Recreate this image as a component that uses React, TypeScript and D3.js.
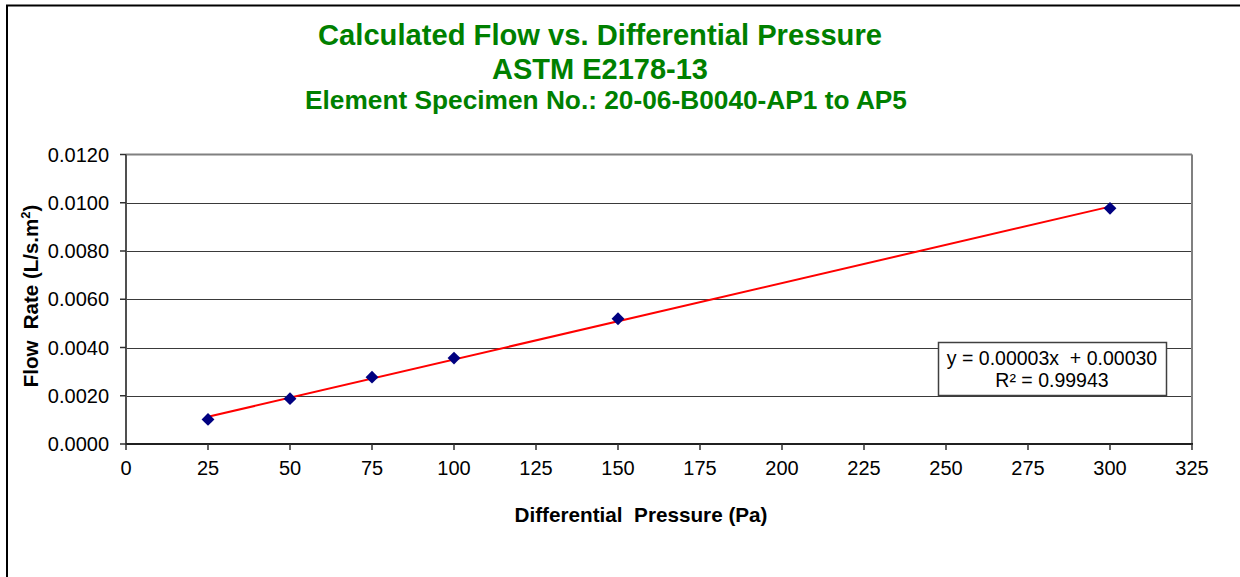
import React from "react";
import * as d3 from "d3";

const pressure = [25, 50, 75, 100, 150, 300];
const flowRate = [0.00102, 0.00188, 0.00277, 0.00356, 0.00519, 0.00977];
const xTicks = [0, 25, 50, 75, 100, 125, 150, 175, 200, 225, 250, 275, 300, 325];
const yTicks = [0, 0.002, 0.004, 0.006, 0.008, 0.01, 0.012];
const titleLines = [
  "Calculated Flow vs. Differential Pressure",
  "ASTM E2178-13",
  "Element Specimen No.: 20-06-B0040-AP1 to AP5",
];
const equationLines = ["y = 0.00003x\u00A0 + 0.00030", "R² = 0.99943"];

const W = 1240;
const H = 577;
const plot = { left: 126, right: 1192, top: 154.5, bottom: 444 };
const FONT = "'Liberation Sans', Arial, sans-serif";

export default function App() {
  const x = d3.scaleLinear().domain([0, 325]).range([plot.left, plot.right]);
  const y = d3.scaleLinear().domain([0, 0.012]).range([plot.bottom, plot.top]);

  // least squares trend line
  const mx = d3.mean(pressure)!;
  const my = d3.mean(flowRate)!;
  const sxy = d3.sum(pressure.map((p, i) => (p - mx) * (flowRate[i] - my)));
  const sxx = d3.sum(pressure.map((p) => (p - mx) * (p - mx)));
  const slope = sxy / sxx;
  const intercept = my - slope * mx;
  const x0 = d3.min(pressure)!;
  const x1 = d3.max(pressure)!;
  const trend = d3.line<number>()
    .x((d) => x(d))
    .y((d) => y(slope * d + intercept))([x0, x1]);

  const diamond = d3.symbol().type(d3.symbolDiamond2).size(105)();

  return (
    <svg
      width={W}
      height={H}
      style={{ position: "absolute", left: 0, top: 0, background: "#fff" }}
      fontFamily={FONT}
    >
      <rect x={0} y={0} width={W} height={H} fill="#fff" />
      {/* outer frame */}
      <line x1={6} y1={5.5} x2={W} y2={5.5} stroke="#000" strokeWidth={2} />
      <line x1={7} y1={5} x2={7} y2={H} stroke="#000" strokeWidth={2} />

      {/* titles */}
      <g fill="#008000" fontWeight="bold" textAnchor="middle">
        <text x={600} y={44.5} fontSize={29} textLength={564} lengthAdjust="spacingAndGlyphs">
          {titleLines[0]}
        </text>
        <text x={600} y={79} fontSize={29} textLength={216} lengthAdjust="spacingAndGlyphs">
          {titleLines[1]}
        </text>
        <text x={606} y={108.5} fontSize={25} textLength={602} lengthAdjust="spacingAndGlyphs">
          {titleLines[2]}
        </text>
      </g>

      {/* gridlines */}
      {yTicks.slice(1, -1).map((t) => (
        <line key={"g" + t} x1={plot.left} x2={plot.right} y1={Math.round(y(t)) + 0.5} y2={Math.round(y(t)) + 0.5} stroke="#3a3a3a" strokeWidth={1} />
      ))}

      {/* plot border */}
      <line x1={plot.left} x2={plot.right} y1={plot.top} y2={plot.top} stroke="#808080" strokeWidth={2} />
      <line x1={plot.right} x2={plot.right} y1={plot.top} y2={plot.bottom} stroke="#808080" strokeWidth={2} />
      <line x1={plot.left} x2={plot.left} y1={plot.top} y2={plot.bottom + 1} stroke="#505050" strokeWidth={2} />
      <line x1={plot.left} x2={plot.right + 1} y1={plot.bottom} y2={plot.bottom} stroke="#202020" strokeWidth={2} />

      {/* y axis ticks & labels */}
      {yTicks.map((t) => (
        <g key={"y" + t}>
          <line x1={plot.left - 6} x2={plot.left} y1={y(t)} y2={y(t)} stroke="#303030" strokeWidth={1.5} />
          <text x={109} y={y(t) + 7} fontSize={20} textAnchor="end" fill="#000">
            {d3.format(".4f")(t)}
          </text>
        </g>
      ))}

      {/* x axis ticks & labels */}
      {xTicks.map((t) => (
        <g key={"x" + t}>
          <line x1={x(t)} x2={x(t)} y1={plot.bottom} y2={plot.bottom + 6} stroke="#303030" strokeWidth={1.5} />
          <text x={x(t)} y={475} fontSize={20} textAnchor="middle" fill="#000">
            {t}
          </text>
        </g>
      ))}

      {/* axis titles */}
      <text x={641} y={522} fontSize={21} fontWeight="bold" textAnchor="middle" fill="#000" textLength={253} lengthAdjust="spacingAndGlyphs">
        {"Differential\u00A0 Pressure (Pa)"}
      </text>
      <text
        transform={`translate(38,296) rotate(-90)`}
        fontSize={20.5}
        fontWeight="bold"
        textAnchor="middle"
        fill="#000"
      >
        {"Flow\u00A0 Rate (L/s.m"}
        <tspan fontSize={13} dy={-8}>2</tspan>
        <tspan dy={8}>)</tspan>
      </text>

      {/* trend line */}
      <path d={trend ?? ""} fill="none" stroke="#ff0000" strokeWidth={2} />

      {/* points */}
      {pressure.map((p, i) => (
        <path key={"p" + p} d={diamond ?? ""} transform={`translate(${x(p)},${y(flowRate[i])})`} fill="#000080" />
      ))}

      {/* equation box */}
      <rect x={938.5} y={342.5} width={228} height={53} fill="#fff" stroke="#404040" strokeWidth={1.5} />
      <g fontSize={19.5} textAnchor="middle" fill="#000">
        <text x={1052} y={365}>{equationLines[0]}</text>
        <text x={1052} y={387}>{equationLines[1]}</text>
      </g>
    </svg>
  );
}
